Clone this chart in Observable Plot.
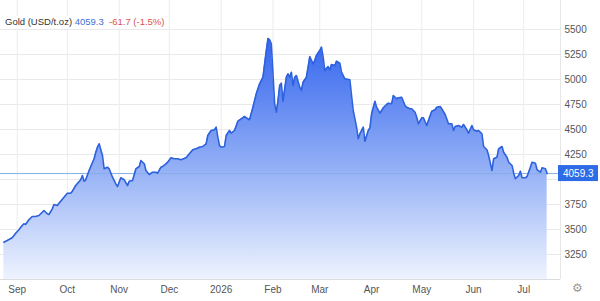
<!DOCTYPE html>
<html><head><meta charset="utf-8">
<script src="https://cdn.jsdelivr.net/npm/d3@7"></script>
<script src="https://cdn.jsdelivr.net/npm/@observablehq/plot@0.6"></script>
<style>
body{margin:0;background:#fff;font-family:"Liberation Sans",Arial,sans-serif;}
#wrap{position:relative;width:600px;height:301px;overflow:hidden}
#title{position:absolute;left:5px;top:16px;font-size:9.5px;line-height:12px;color:#333;white-space:pre;background:#fff;padding-right:2px}
#gear{position:absolute;left:572px;top:281px;font-size:12px;color:#999;font-family:"DejaVu Sans",sans-serif}
</style></head><body>
<div id="wrap"><div id="chart"></div><div id="title"></div><div id="gear">⚙</div></div>
<script>
const titleName = "Gold (USD/t.oz)";
const lastValue = 4059.3;
const change = "-61.7 (-1.5%)";

const dates = [
  "2025-08-24","2025-08-26","2025-08-29","2025-08-31",
  "2025-09-02","2025-09-04","2025-09-05","2025-09-06","2025-09-08","2025-09-10","2025-09-12","2025-09-14","2025-09-16","2025-09-17","2025-09-19","2025-09-20","2025-09-22","2025-09-23","2025-09-25","2025-09-26","2025-09-29",
  "2025-10-01","2025-10-03","2025-10-04","2025-10-06","2025-10-09","2025-10-10","2025-10-11","2025-10-12","2025-10-14","2025-10-15","2025-10-17","2025-10-18","2025-10-19","2025-10-20","2025-10-22","2025-10-23",
  "2025-10-25","2025-10-26","2025-10-28","2025-10-30","2025-10-31",
  "2025-11-02","2025-11-04","2025-11-06","2025-11-07","2025-11-09","2025-11-11","2025-11-13","2025-11-14","2025-11-16","2025-11-17","2025-11-19","2025-11-21","2025-11-23","2025-11-24","2025-11-26","2025-11-27","2025-11-29","2025-11-30",
  "2025-12-02","2025-12-04","2025-12-06","2025-12-08","2025-12-11","2025-12-13","2025-12-15","2025-12-17","2025-12-19",
  "2025-12-21","2025-12-23","2025-12-24","2025-12-26","2025-12-28","2025-12-29","2025-12-30","2025-12-31",
  "2026-01-01","2026-01-03","2026-01-04","2026-01-06","2026-01-07","2026-01-09","2026-01-11","2026-01-13","2026-01-15","2026-01-16","2026-01-18","2026-01-20","2026-01-22","2026-01-24","2026-01-25","2026-01-26","2026-01-27","2026-01-28","2026-01-29","2026-01-30","2026-01-31",
  "2026-02-01","2026-02-02","2026-02-03","2026-02-04","2026-02-05","2026-02-06","2026-02-07","2026-02-08","2026-02-09","2026-02-10","2026-02-11","2026-02-12","2026-02-13","2026-02-14","2026-02-15",
  "2026-02-17","2026-02-18","2026-02-19","2026-02-21","2026-02-22","2026-02-23","2026-02-25","2026-02-26","2026-02-27",
  "2026-03-01","2026-03-02","2026-03-03","2026-03-04","2026-03-06","2026-03-07","2026-03-08","2026-03-10","2026-03-11","2026-03-13","2026-03-14","2026-03-16","2026-03-19","2026-03-20","2026-03-21","2026-03-23","2026-03-24","2026-03-25","2026-03-27","2026-03-28","2026-03-30","2026-03-31",
  "2026-04-01","2026-04-03","2026-04-04","2026-04-06","2026-04-07","2026-04-08","2026-04-10","2026-04-11","2026-04-13","2026-04-14","2026-04-16","2026-04-17","2026-04-19","2026-04-21","2026-04-22","2026-04-24","2026-04-25","2026-04-27","2026-04-28","2026-04-29",
  "2026-05-01","2026-05-02","2026-05-04","2026-05-05","2026-05-07","2026-05-09","2026-05-10","2026-05-12","2026-05-13","2026-05-15","2026-05-17","2026-05-19","2026-05-20","2026-05-21","2026-05-23","2026-05-25","2026-05-26","2026-05-28","2026-05-29","2026-05-31",
  "2026-06-01","2026-06-03","2026-06-04","2026-06-06","2026-06-07","2026-06-09","2026-06-10","2026-06-12","2026-06-13","2026-06-15","2026-06-16","2026-06-18","2026-06-19","2026-06-21","2026-06-22","2026-06-24","2026-06-25","2026-06-26","2026-06-28","2026-06-29","2026-06-30",
  "2026-07-02","2026-07-03","2026-07-05","2026-07-06","2026-07-08","2026-07-09","2026-07-11","2026-07-12","2026-07-14","2026-07-15"
];
const prices = [
  3373,3390,3417,3460,
  3497,3540,3557,3550,3597,3630,3630,3640,3673,3690,3657,3650,3707,3750,3740,3763,3823,
  3863,3863,3883,3940,3997,4040,3983,3997,4090,4130,4207,4273,4323,4357,4240,4107,
  4123,4107,4023,3957,3930,
  4017,3997,3940,3983,3990,4107,4130,4190,4157,4090,4050,4073,4073,4063,4123,4130,4157,4173,
  4217,4207,4207,4197,4217,4257,4297,4307,4323,
  4330,4357,4440,4490,4497,4523,4423,4340,
  4323,4330,4440,4490,4463,4490,4583,4607,4630,4617,4597,4723,4857,4957,4990,5023,5157,5290,5410,5397,5357,
  5057,4757,4673,4790,4940,4963,4783,4907,5023,5057,5023,5073,4940,5023,5040,
  4923,4890,4973,5023,5123,5230,5157,5190,5240,
  5290,5323,5223,5090,5130,5097,5150,5140,5183,5163,5073,5007,4997,4840,4690,4523,4407,4457,4523,4383,4490,4517,
  4657,4783,4723,4663,4690,4717,4750,4763,4757,4840,4807,4817,4823,4740,4723,4707,4707,4673,4623,4557,
  4617,4617,4540,4590,4683,4697,4723,4730,4707,4650,4557,4557,4490,4530,4540,4523,4550,4497,4463,4540,
  4497,4483,4490,4457,4330,4297,4240,4090,4207,4223,4307,4330,4273,4223,4173,4140,4063,4007,4040,4083,4017,
  4017,4030,4123,4173,4163,4097,4073,4117,4107,4059.3
];
const xTicks = ["2025-09-01","2025-10-01","2025-11-01","2025-12-01","2026-01-01","2026-02-01","2026-03-01","2026-04-01","2026-05-01","2026-06-01","2026-07-01"];
const xLabels = ["Sep","Oct","Nov","Dec","2026","Feb","Mar","Apr","May","Jun","Jul"];
const yGrid = [3250,3500,3750,4000,4250,4500,4750,5000,5250,5500];
const yLabels = [3250,3500,3750,4250,4500,4750,5000,5250,5500];
const xDomain = ["2025-08-22","2026-07-23"];
const yDomain = [3000,5790];

const data = dates.map((d, i) => ({date: new Date(d), price: prices[i]}));
const tickDates = xTicks.map(d => new Date(d));
const labelFor = d => xLabels[tickDates.findIndex(t => +t === +d)] ?? "";

document.getElementById("title").innerHTML =
  `<span>${titleName}</span> <span style="color:#3b72d4">${lastValue.toFixed(1)}</span>  <span style="color:#d9534f">${change}</span>`;

const chart = Plot.plot({
  width: 600, height: 301,
  marginLeft: 0, marginRight: 40, marginTop: 0, marginBottom: 22,
  style: {fontFamily: "Liberation Sans, Arial, sans-serif", fontSize: "10px", color: "#555", background: "#fff", overflow: "visible"},
  x: {type: "utc", domain: xDomain.map(d => new Date(d))},
  y: {domain: yDomain},
  marks: [
    Plot.gridY(yGrid, {stroke: "#e9e9e9", strokeOpacity: 1}),
    Plot.gridX(tickDates, {stroke: "#ececec", strokeOpacity: 1}),
    Plot.areaY(data, {x: "date", y1: yDomain[0], y2: "price", fill: "url(#goldGrad)"}),
    Plot.ruleY([lastValue], {stroke: "#86aee6", strokeWidth: 1}),
    Plot.lineY(data, {x: "date", y: "price", stroke: "#2e62dd", strokeWidth: 1.6}),
    Plot.ruleY([yDomain[0]], {stroke: "#dcdcdc"}),
    Plot.ruleX([new Date(xDomain[1])], {stroke: "#e6e6e6"}),
    Plot.axisY(yLabels, {anchor: "right", tickSize: 0, tickPadding: 4, label: null, tickFormat: d => String(d)}),
    Plot.axisX(tickDates, {anchor: "bottom", tickSize: 0, tickPadding: 6, label: null, tickFormat: labelFor})
  ]
});

const svg = d3.select(chart);
const grad = svg.insert("defs", ":first-child").append("linearGradient")
  .attr("id", "goldGrad").attr("x1", 0).attr("x2", 0).attr("y1", 0).attr("y2", 1);
grad.append("stop").attr("offset", "0%").attr("stop-color", "#3465ee");
grad.append("stop").attr("offset", "50%").attr("stop-color", "#8caaf5");
grad.append("stop").attr("offset", "100%").attr("stop-color", "#eef3fe");

const sy = chart.scale("y"), sx = chart.scale("x");
const ly = sy.apply(lastValue);
const lx = sx.range[1];
const g = svg.append("g").attr("text-anchor", "start");
g.append("rect").attr("x", lx - 2).attr("y", ly - 8).attr("width", 40).attr("height", 16).attr("fill", "#2e6be6");
g.append("text").attr("x", lx + 3).attr("y", ly).attr("dy", "0.35em").attr("fill", "#fff")
  .attr("text-anchor", "start")
  .attr("font-size", 10).attr("font-family", "Liberation Sans, Arial, sans-serif").text(lastValue.toFixed(1));

document.getElementById("chart").appendChild(chart);
</script>
</body></html>
